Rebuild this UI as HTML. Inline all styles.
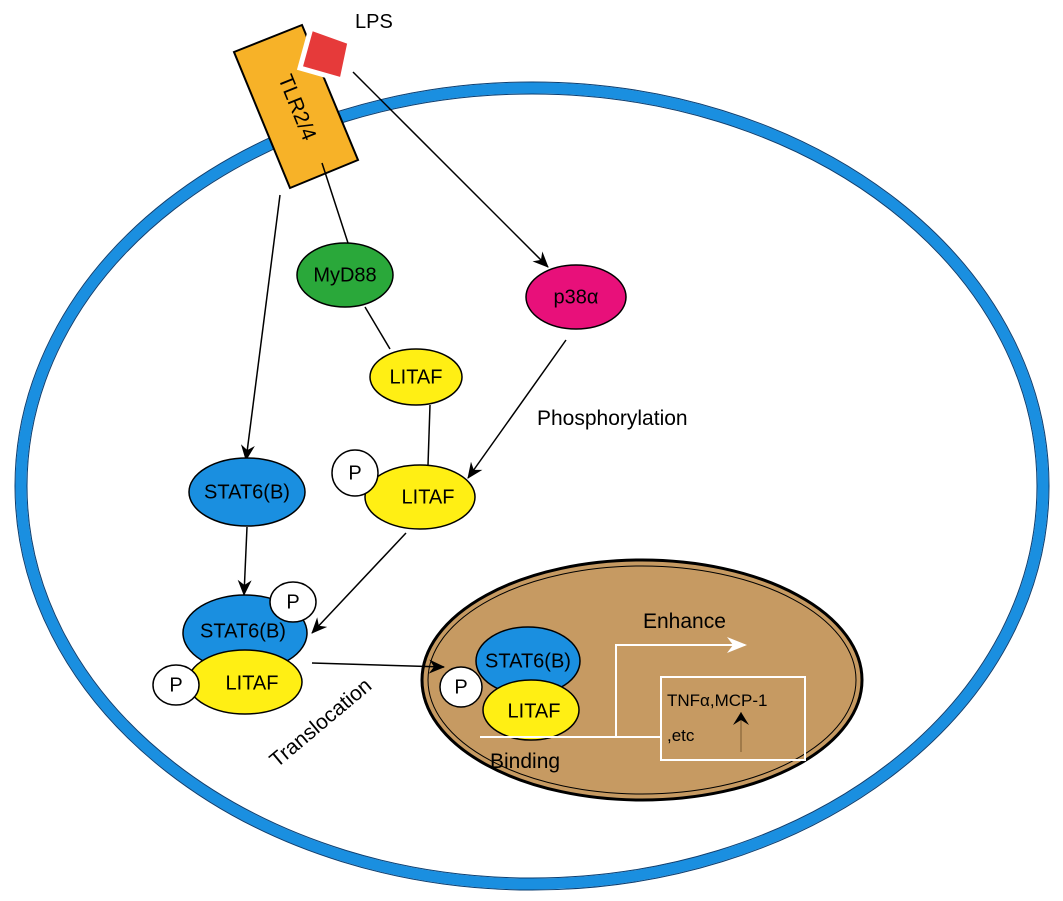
<!DOCTYPE html>
<html><head><meta charset="utf-8"><style>body{margin:0;background:#fff}svg{display:block}text{font-family:"Liberation Sans","DejaVu Sans",sans-serif}</style></head><body>
<svg width="1063" height="901" viewBox="0 0 1063 901">
<defs><marker id="a" markerWidth="16" markerHeight="14" refX="15" refY="7" orient="auto" markerUnits="userSpaceOnUse"><path d="M0,0 L16,7 L0,14 L5,7 Z" fill="#000"/></marker>
<marker id="w" markerWidth="20" markerHeight="16" refX="18" refY="8" orient="auto" markerUnits="userSpaceOnUse"><path d="M0,0 L20,8 L0,16 L6,8 Z" fill="#fff"/></marker></defs>
<ellipse cx="532" cy="486" rx="511" ry="398" fill="none" stroke="#1a8fe0" stroke-width="11"/>
<ellipse cx="532" cy="486" rx="517" ry="404" fill="none" stroke="#0a3d70" stroke-width="1"/>
<ellipse cx="532" cy="486" rx="505" ry="392" fill="none" stroke="#0a3d70" stroke-width="1"/>
<polygon points="234,52 302,25 358,160 290,188" fill="#f7b228" stroke="#000" stroke-width="2"/>
<text transform="translate(296,108) rotate(68)" font-size="21" text-anchor="middle" dominant-baseline="middle">TLR2/4</text>
<polygon points="311,28 350,42 342,80 300,68" fill="#e63a3a" stroke="#fff" stroke-width="5"/>
<text x="355" y="28" font-size="20">LPS</text>
<g stroke="#000" stroke-width="1.5" fill="none">
<line x1="280" y1="195" x2="246" y2="460" marker-end="url(#a)"/>
<line x1="322" y1="163" x2="348" y2="243"/>
<line x1="365" y1="307" x2="390" y2="349"/>
<line x1="430" y1="405" x2="428" y2="465"/>
<line x1="353" y1="72" x2="548" y2="267" marker-end="url(#a)"/>
<line x1="566" y1="340" x2="468" y2="478" marker-end="url(#a)"/>
<line x1="247" y1="527" x2="244" y2="595" marker-end="url(#a)"/>
<line x1="406" y1="533" x2="312" y2="633" marker-end="url(#a)"/>
</g>
<g stroke="#000" stroke-width="1.5">
<ellipse cx="345" cy="275" rx="48" ry="32" fill="#2aa83a"/>
<ellipse cx="576" cy="297" rx="50" ry="32" fill="#e8107a"/>
<ellipse cx="416" cy="377" rx="46" ry="28" fill="#ffef14"/>
<ellipse cx="420" cy="497" rx="55" ry="32" fill="#ffef14"/>
<ellipse cx="355" cy="473" rx="23" ry="23" fill="#fff"/>
<ellipse cx="247" cy="492" rx="58" ry="34" fill="#1a8fe0"/>
<ellipse cx="245" cy="633" rx="62" ry="38" fill="#1a8fe0"/>
<ellipse cx="293" cy="602" rx="23" ry="20" fill="#fff"/>
<ellipse cx="245" cy="682" rx="57" ry="32" fill="#ffef14"/>
<ellipse cx="176" cy="685" rx="23" ry="20" fill="#fff"/>
<ellipse cx="642" cy="680" rx="220" ry="120" fill="#c69a62" stroke-width="3"/>
<ellipse cx="642" cy="680" rx="214" ry="114" fill="none" stroke-width="1"/>
<ellipse cx="528" cy="661" rx="52" ry="34" fill="#1a8fe0"/>
<ellipse cx="531" cy="710" rx="48" ry="30" fill="#ffef14"/>
<ellipse cx="461" cy="687" rx="21" ry="20" fill="#fff"/>
</g>
<line x1="312" y1="663" x2="444" y2="667" stroke="#000" stroke-width="1.5" marker-end="url(#a)"/>
<g font-size="20" text-anchor="middle" dominant-baseline="middle">
<text x="345" y="276">MyD88</text><text x="576" y="298">p38α</text>
<text x="416" y="378">LITAF</text><text x="428" y="498">LITAF</text><text x="355" y="474">P</text>
<text x="247" y="493">STAT6(B)</text><text x="243" y="632">STAT6(B)</text><text x="293" y="603">P</text>
<text x="252" y="684">LITAF</text><text x="176" y="686">P</text>
<text x="528" y="662">STAT6(B)</text><text x="534" y="712">LITAF</text><text x="461" y="688">P</text>
</g>
<g stroke="#fff" stroke-width="2" fill="none">
<polyline points="480,737 616,737 616,645 745,645" marker-end="url(#w)"/>
<line x1="616" y1="737" x2="660" y2="737"/>
<rect x="661" y="677" width="144" height="83"/>
</g>
<line x1="741" y1="752" x2="741" y2="712" stroke="#7a5a30" stroke-width="1"/>
<path d="M733,725 L741,712 L749,725 L741,720 Z" fill="#000"/>
<text x="643" y="628" font-size="21">Enhance</text>
<text x="490" y="768" font-size="21">Binding</text>
<text x="667" y="706" font-size="17">TNFα,MCP-1</text>
<text x="667" y="741" font-size="17">,etc</text>
<text x="537" y="425" font-size="21">Phosphorylation</text>
<text transform="translate(325,728) rotate(-40)" font-size="21" text-anchor="middle">Translocation</text>
</svg>
</body></html>
